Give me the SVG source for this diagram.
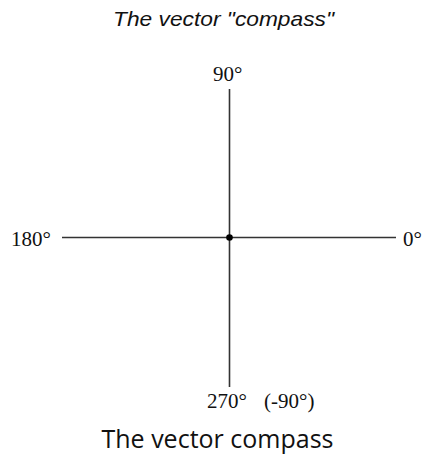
<svg xmlns="http://www.w3.org/2000/svg" width="424" height="457" viewBox="0 0 424 457">
<style>
.t{font-family:"Liberation Serif","Times New Roman",serif;font-size:21px;fill:#111}
.ax{stroke:#333;stroke-width:1.6;fill:none}
</style>
<rect width="424" height="457" fill="#fff"/>
<text x="113" y="26" textLength="221" lengthAdjust="spacingAndGlyphs" font-family="'Liberation Sans',Arial,sans-serif" font-style="italic" font-size="21" fill="#111">The vector "compass"</text>
<g id="connectors">
<line class="ax" x1="229.5" y1="89" x2="229.5" y2="387"/>
<line class="ax" x1="62" y1="237.5" x2="396" y2="237.5"/>
</g>
<g id="center"><circle cx="229.5" cy="237.5" r="3.3" fill="#000"/></g>
<g id="n90"><text class="t" x="213" y="81">90°</text></g>
<g id="n180"><text class="t" x="11" y="246">180°</text></g>
<g id="n0"><text class="t" x="403" y="246">0°</text></g>
<g id="n270"><text class="t" x="207" y="408">270°</text><text class="t" x="264" y="408">(-90°)</text></g>
<text x="217.5" y="448" text-anchor="middle" font-family="'Open Sans',sans-serif" font-size="25" fill="#111">The vector compass</text>
</svg>
